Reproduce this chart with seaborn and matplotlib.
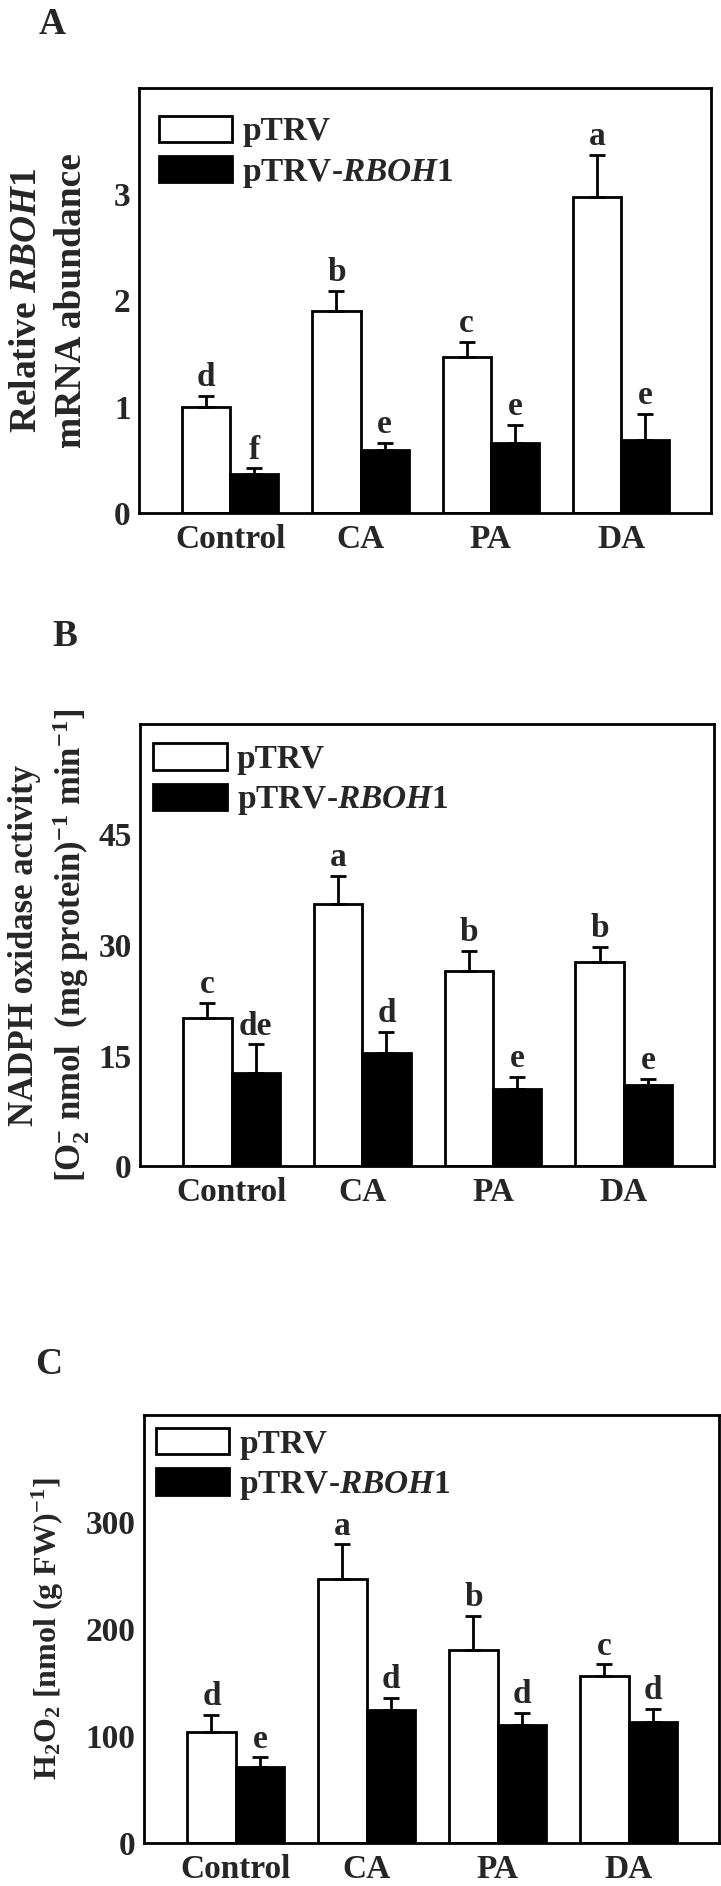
import pandas as pd
import matplotlib
matplotlib.use("Agg")
import matplotlib.pyplot as plt
import seaborn as sns

treatments = ["Control", "CA", "PA", "DA"]
genotypes = ["pTRV", "pTRV-RBOH1"]
legend_labels = ["pTRV", "pTRV-$\\mathit{RBOH1}$"]

# A: relative RBOH1 mRNA abundance
rboh_ptrv = [1.00, 1.90, 1.47, 2.97]
rboh_ptrv_err = [0.10, 0.19, 0.14, 0.40]
rboh_sil = [0.37, 0.59, 0.66, 0.69]
rboh_sil_err = [0.05, 0.07, 0.17, 0.24]
rboh_ptrv_letters = ["d", "b", "c", "a"]
rboh_sil_letters = ["f", "e", "e", "e"]

# B: NADPH oxidase activity
nox_ptrv = [20.1, 35.5, 26.5, 27.7]
nox_ptrv_err = [2.0, 3.9, 2.7, 2.0]
nox_sil = [12.6, 15.4, 10.5, 11.0]
nox_sil_err = [3.9, 2.8, 1.6, 0.8]
nox_ptrv_letters = ["c", "a", "b", "b"]
nox_sil_letters = ["de", "d", "e", "e"]

# C: H2O2 content
h2o2_ptrv = [103.5, 247.0, 180.0, 156.0]
h2o2_ptrv_err = [16.5, 32.0, 32.5, 11.0]
h2o2_sil = [71.0, 124.0, 110.0, 113.0]
h2o2_sil_err = [9.0, 11.5, 11.6, 12.4]
h2o2_ptrv_letters = ["d", "a", "b", "c"]
h2o2_sil_letters = ["e", "d", "d", "d"]

sns.set_style("white")
plt.rcParams["font.family"] = ["Liberation Serif", "DejaVu Serif"]
plt.rcParams["font.weight"] = "bold"
plt.rcParams["axes.labelweight"] = "bold"
plt.rcParams["mathtext.fontset"] = "custom"
plt.rcParams["mathtext.rm"] = "Liberation Serif:bold"
plt.rcParams["mathtext.bf"] = "Liberation Serif:bold"
plt.rcParams["mathtext.it"] = "Liberation Serif:italic:bold"


def draw_panel(ax, ptrv, ptrv_err, sil, sil_err, let_ptrv, let_sil, ymax, yticks,
               ylabel, label_x, label_size, label_spacing, leg_anchor):
    df = pd.DataFrame({
        "treatment": treatments * 2,
        "genotype": [genotypes[0]] * 4 + [genotypes[1]] * 4,
        "value": ptrv + sil,
    })
    sns.barplot(data=df, x="treatment", y="value", hue="genotype",
                order=treatments, hue_order=genotypes,
                palette=["white", "black"], saturation=1,
                edgecolor="black", linewidth=2, width=0.74,
                errorbar=None, ax=ax)
    for cont, errs, lets in zip(ax.containers, [ptrv_err, sil_err], [let_ptrv, let_sil]):
        for bar, e, lab in zip(cont, errs, lets):
            x = bar.get_x() + bar.get_width() / 2
            h = bar.get_height()
            ax.errorbar(x, h, yerr=[[0], [e]], fmt="none", ecolor="black",
                        elinewidth=2, capsize=6, capthick=2)
            ax.annotate(lab, (x, h + e), xytext=(0, 2), textcoords="offset points",
                        ha="center", va="bottom", fontsize=24, fontweight="bold")

    ax.set_xlim(-0.7, 3.69)
    ax.set_ylim(0, ymax)
    ax.set_yticks(yticks)
    ax.set_xlabel("")
    ax.set_ylabel(ylabel, fontsize=label_size, fontweight="bold", linespacing=label_spacing)
    ax.yaxis.set_label_coords(label_x, 0.5)
    for s in ax.spines.values():
        s.set_linewidth(2)
        s.set_color("black")
    ax.tick_params(axis="y", direction="in", length=7, width=2, labelsize=24, pad=6)
    ax.tick_params(axis="x", length=0, labelsize=24, pad=8)
    for t in ax.get_xticklabels() + ax.get_yticklabels():
        t.set_fontweight("bold")

    handles, _ = ax.get_legend_handles_labels()
    ax.legend(handles, legend_labels, loc="upper left", bbox_to_anchor=leg_anchor,
              frameon=False, prop={"weight": "bold", "size": 24},
              handlelength=2.2, handleheight=0.85, labelspacing=0.25,
              handletextpad=0.3, borderpad=0, borderaxespad=0)


fig = plt.figure(figsize=(7.21, 18.86), dpi=100)
W, H = 721, 1886

ax_a = fig.add_axes([139 / W, 1 - 513 / H, 572 / W, 425 / H])
draw_panel(ax_a, rboh_ptrv, rboh_ptrv_err, rboh_sil, rboh_sil_err,
           rboh_ptrv_letters, rboh_sil_letters, 4, [0, 1, 2, 3],
           "Relative $\\mathit{RBOH1}$\nmRNA abundance", -0.088, 27, 1.35,
           (0.035, 0.935))

ax_b = fig.add_axes([140 / W, 1 - 1166 / H, 574 / W, 442 / H])
draw_panel(ax_b, nox_ptrv, nox_ptrv_err, nox_sil, nox_sil_err,
           nox_ptrv_letters, nox_sil_letters, 60, [0, 15, 30, 45],
           "NADPH oxidase activity\n[O$_2^{-}$ nmol  (mg protein)$^{-1}$ min$^{-1}$]",
           -0.084, 25, 1.3, (0.023, 0.956))

ax_c = fig.add_axes([144 / W, 1 - 1843 / H, 575 / W, 428 / H])
draw_panel(ax_c, h2o2_ptrv, h2o2_ptrv_err, h2o2_sil, h2o2_sil_err,
           h2o2_ptrv_letters, h2o2_sil_letters, 400, [0, 100, 200, 300],
           "H$_2$O$_2$ [nmol (g FW)$^{-1}$]", -0.136, 23, 1.2, (0.021, 0.97))

fig.text(52 / W, 1 - 24 / H, "A", fontsize=27, fontweight="bold", ha="center", va="center")
fig.text(65 / W, 1 - 636 / H, "B", fontsize=27, fontweight="bold", ha="center", va="center")
fig.text(49 / W, 1 - 1364 / H, "C", fontsize=27, fontweight="bold", ha="center", va="center")

fig.savefig("out.png", dpi=100)
